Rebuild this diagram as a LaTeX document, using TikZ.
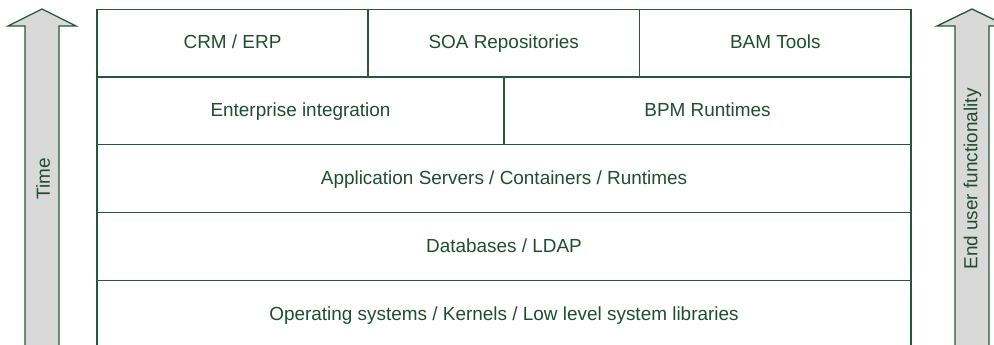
\documentclass[tikz,border=0pt]{standalone}
\usepackage{fontspec}
\setmainfont{Liberation Sans}
\definecolor{lineg}{RGB}{40,86,56}
\definecolor{textg}{RGB}{30,78,46}
\definecolor{arrowfill}{RGB}{217,217,217}
\begin{document}
\begin{tikzpicture}[x=0.75pt,y=-0.75pt,
  cell/.style={draw=lineg,line width=1pt},
  lbl/.style={text=textg,font=\fontsize{14.2}{17}\selectfont,inner sep=0pt,text height=10.2pt,text depth=0pt},
  bigarrow/.style={draw=lineg,fill=arrowfill,line width=1pt,line join=miter}]
\useasboundingbox (0,0) rectangle (994,345);
\clip (0,0) rectangle (994,345);
% arrows
\draw[bigarrow] (25,360) -- (25,26) -- (8,26) -- (42,9) -- (76,26) -- (59,26) -- (59,360);
\draw[bigarrow] (955,360) -- (955,26) -- (937,26) -- (972,9) -- (1007,26) -- (989,26) -- (989,360);
\node[lbl,rotate=90] (time) at (43,179) {Time};
\node[lbl,rotate=90] (euf) at (970.5,179) {End user functionality};
% layer cells
\draw[cell] (97,9.5) rectangle (368,77);
\draw[cell] (368,9.5) rectangle (639.5,77);
\draw[cell] (639.5,9.5) rectangle (911,77);
\draw[cell] (97,77) rectangle (504,144.5);
\draw[cell] (504,77) rectangle (911,144.5);
\draw[cell] (97,144.5) rectangle (911,212.5);
\draw[cell] (97,212.5) rectangle (911,280.5);
\draw[cell] (97,280.5) rectangle (911,360);
\node[lbl] (crm) at (232.5,42.2) {CRM / ERP};
\node[lbl] (soa) at (503.75,42.2) {SOA Repositories};
\node[lbl] (bam) at (775.25,42.2) {BAM Tools};
\node[lbl] (ei) at (300.5,110) {Enterprise integration};
\node[lbl] (bpm) at (707.5,110) {BPM Runtimes};
\node[lbl] (app) at (504,178) {Application Servers / Containers / Runtimes};
\node[lbl] (db) at (504,246) {Databases / LDAP};
\node[lbl] (os) at (504,314) {Operating systems / Kernels / Low level system libraries};
\end{tikzpicture}
\end{document}
